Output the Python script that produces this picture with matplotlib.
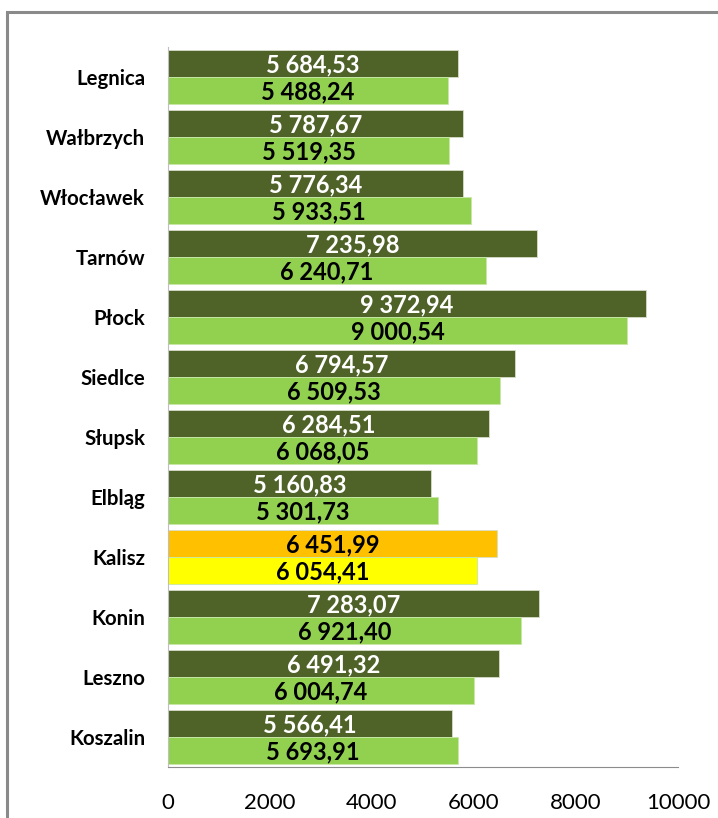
import matplotlib
matplotlib.use('Agg')
import matplotlib.pyplot as plt
from matplotlib.patches import Rectangle
import numpy as np

# Data
cities = ['Legnica', 'Wałbrzych', 'Włocławek', 'Tarnów', 'Płock', 'Siedlce',
          'Słupsk', 'Elbląg', 'Kalisz', 'Konin', 'Leszno', 'Koszalin']
values_top = [5684.53, 5787.67, 5776.34, 7235.98, 9372.94, 6794.57,
              6284.51, 5160.83, 6451.99, 7283.07, 6491.32, 5566.41]
values_bottom = [5488.24, 5519.35, 5933.51, 6240.71, 9000.54, 6509.53,
                 6068.05, 5301.73, 6054.41, 6921.40, 6004.74, 5693.91]
x_ticks = [0, 2000, 4000, 6000, 8000, 10000]
highlight = 'Kalisz'

plt.rcParams['font.family'] = ['Lato', 'DejaVu Sans']

dark_green = '#4F6228'
light_green = '#92D050'
orange = '#FFC000'
yellow = '#FFFF00'


def fmt(v):
    return f"{v:,.2f}".replace(",", " ").replace(".", ",")


fig = plt.figure(figsize=(7.18, 8.18), dpi=100)
ax = fig.add_axes([168 / 718, 51 / 818, (678 - 168) / 718, (771 - 51) / 818])

pos = np.arange(len(cities))
h = 0.45

for i, city in enumerate(cities):
    c_top = orange if city == highlight else dark_green
    c_bot = yellow if city == highlight else light_green
    t_col = 'black' if city == highlight else 'white'
    ax.barh(pos[i] - h / 2, values_top[i], height=h, color=c_top,
            edgecolor='#d8dcc8', linewidth=0.6)
    ax.barh(pos[i] + h / 2, values_bottom[i], height=h, color=c_bot,
            edgecolor='#c8e8a8', linewidth=0.6)
    ax.text(values_top[i] / 2, pos[i] - h / 2 + 0.02, fmt(values_top[i]),
            ha='center', va='center', color=t_col, fontsize=17, fontweight='bold')
    ax.text(values_bottom[i] / 2, pos[i] + h / 2 + 0.02, fmt(values_bottom[i]),
            ha='center', va='center', color='black', fontsize=17, fontweight='bold')

ax.set_ylim(len(cities) - 0.5, -0.5)
ax.set_xlim(0, 10000)
ax.set_yticks(pos)
ax.set_yticklabels(cities, fontsize=14.7, fontweight='bold')
ax.set_xticks(x_ticks)
ax.set_xticklabels([str(t) for t in x_ticks], fontsize=16)
ax.tick_params(axis='both', length=0)
ax.tick_params(axis='y', pad=16.5)
ax.tick_params(axis='x', pad=19)

for s in ['top', 'right']:
    ax.spines[s].set_visible(False)
ax.spines['left'].set_color('#bfbfbf')
ax.spines['bottom'].set_color('#8c8c8c')

# outer chart-area frame
fig.patches.append(Rectangle((7 / 718, -0.1), 1.2, (818 - 12) / 818 + 0.1,
                             transform=fig.transFigure, fill=False,
                             edgecolor='#8a8a8a', linewidth=2.2))

fig.savefig('out.png', dpi=100)
